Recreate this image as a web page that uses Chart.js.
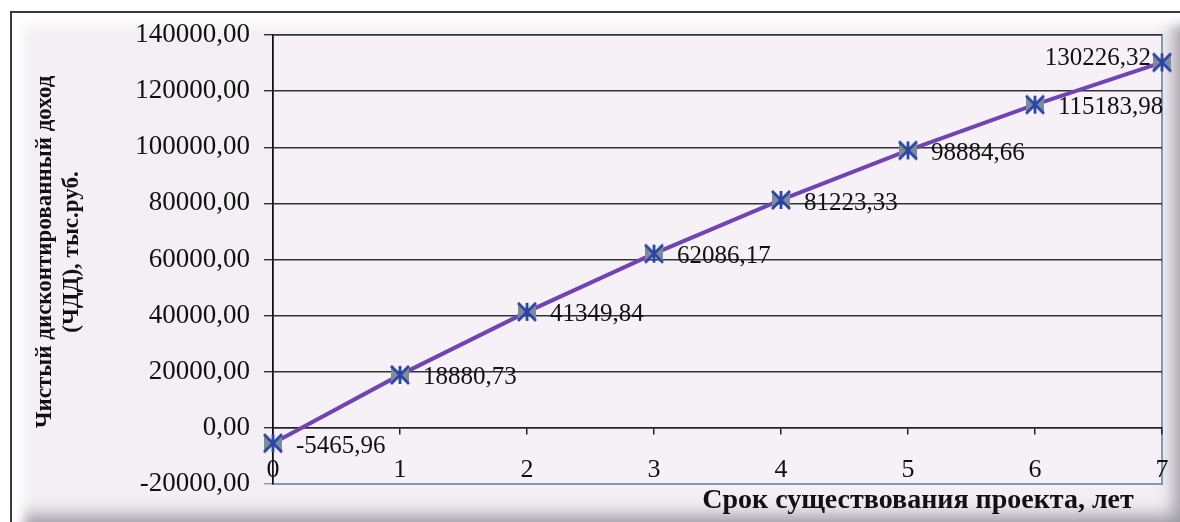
<!DOCTYPE html>
<html lang="ru">
<head>
<meta charset="utf-8">
<title>ЧДД по годам</title>
<script src="https://cdn.jsdelivr.net/npm/chart.js@4.4.1/dist/chart.umd.min.js"></script>
<style>
  html, body { margin: 0; padding: 0; background: #ffffff; }
  body { width: 1180px; height: 522px; position: relative; overflow: hidden; }
  #frame {
    position: absolute; left: 10px; top: 11px; width: 1185px; height: 525px;
    border-top: 2px solid #3a3a3e; border-left: 2px solid #3a3a3e;
    background: #f4eff4;
    box-shadow: inset 16px 16px 12px -4px #ffffff,
                inset -34px -34px 18px -12px rgba(90, 90, 100, 0.6);
  }
  #wrap { position: absolute; left: 0; top: 0; width: 1180px; height: 522px; }
</style>
</head>
<body>
<div id="frame"></div>
<div id="wrap"><canvas id="npvChart"></canvas></div>
<script>
// Срок существования проекта (годы) и ЧДД, тыс.руб.
const years = [0, 1, 2, 3, 4, 5, 6, 7];
const npvValues = [-5465.96, 18880.73, 41349.84, 62086.17, 81223.33, 98884.66, 115183.98, 130226.32];
const yTicks = [-20000, 0, 20000, 40000, 60000, 80000, 100000, 120000, 140000];
const yTitleLines = ['Чистый дисконтированный доход', '(ЧДД), тыс.руб.'];
const xTitle = 'Срок существования проекта, лет';

const SERIF = '"Liberation Serif", "Times New Roman", serif';

// число в формате "12345,67"
function fmt(v) {
    return Number(v).toFixed(2).replace('.', ',');
}

// маркер: крестик с вертикальной чертой и серыми треугольниками
function makeMarker() {
    const c = document.createElement('canvas');
    const s = 22;
    c.width = s; c.height = s;
    const g = c.getContext('2d');
    const m = s / 2, r = 9;
    g.fillStyle = '#7d8c98';
    g.beginPath();
    g.moveTo(m - r, m - r); g.lineTo(m, m); g.lineTo(m - r, m + r); g.closePath();
    g.moveTo(m + r, m - r); g.lineTo(m, m); g.lineTo(m + r, m + r); g.closePath();
    g.fill();
    g.strokeStyle = '#2b45a6';
    g.lineWidth = 2.8;
    g.beginPath();
    g.moveTo(m - r, m - r); g.lineTo(m + r, m + r);
    g.moveTo(m + r, m - r); g.lineTo(m - r, m + r);
    g.moveTo(m, m - r); g.lineTo(m, m + r);
    g.stroke();
    return c;
}

// фон и рамка области построения
const plotAreaBg = {
    id: 'plotAreaBg',
    beforeDraw(chart) {
        const { ctx, chartArea: a } = chart;
        ctx.save();
        ctx.fillStyle = '#f6f1f6';
        ctx.fillRect(a.left, a.top, a.right - a.left, a.bottom - a.top);
        ctx.strokeStyle = '#7f9caa';
        ctx.lineWidth = 2;
        ctx.strokeRect(a.left, a.top, a.right - a.left, a.bottom - a.top);
        ctx.restore();
    }
};

// подписи значений у точек и заголовки осей
const valueLabels = {
    id: 'valueLabels',
    afterDatasetsDraw(chart) {
        const { ctx } = chart;
        const meta = chart.getDatasetMeta(0);
        const last = meta.data.length - 1;
        ctx.save();
        ctx.fillStyle = '#111';
        ctx.font = '25px ' + SERIF;
        ctx.textBaseline = 'middle';
        meta.data.forEach((pt, i) => {
            const text = fmt(npvValues[i]);
            if (i === last) {
                ctx.textAlign = 'right';
                ctx.fillText(text, pt.x - 11, pt.y - 4);
            } else {
                ctx.textAlign = 'left';
                ctx.fillText(text, pt.x + 23, pt.y + 3);
            }
        });

        ctx.font = 'bold 23px ' + SERIF;
        ctx.textAlign = 'center';
        ctx.save();
        ctx.translate(45, 252);
        ctx.rotate(-Math.PI / 2);
        ctx.fillText(yTitleLines[0], 0, 0);
        ctx.fillText(yTitleLines[1], 0, 27);
        ctx.restore();

        ctx.font = 'bold 28px ' + SERIF;
        ctx.fillText(xTitle, 918, 501);
        ctx.restore();
    }
};

const ctx = document.getElementById('npvChart').getContext('2d');
new Chart(ctx, {
    type: 'line',
    data: {
        datasets: [{
            data: years.map((x, i) => ({ x: x, y: npvValues[i] })),
            borderColor: '#7144b4',
            borderWidth: 4,
            pointStyle: makeMarker(),
            pointRadius: 11,
            pointHoverRadius: 11,
            clip: false,
            tension: 0
        }]
    },
    options: {
        responsive: true,
        maintainAspectRatio: false,
        animation: false,
        events: [],
        layout: { padding: { left: 0, top: 35, right: 18, bottom: 38 } },
        plugins: {
            legend: { display: false },
            tooltip: { enabled: false }
        },
        scales: {
            x: {
                type: 'linear',
                position: { y: 0 },
                min: 0,
                max: 7,
                afterFit(scale) {
                    // подпись "7" не должна сдвигать правый край области
                    scale.paddingLeft = 0;
                    scale.paddingRight = 0;
                },
                ticks: {
                    stepSize: 1,
                    padding: 21,
                    color: '#111',
                    font: { family: SERIF, size: 26 }
                },
                grid: { drawOnChartArea: false, tickLength: 6, color: '#222', lineWidth: 1.5 },
                border: { color: '#222', width: 1.5 }
            },
            y: {
                min: -20000,
                max: 140000,
                afterBuildTicks(scale) {
                    scale.ticks = yTicks.map(v => ({ value: v }));
                },
                afterFit(scale) {
                    scale.width = 273;
                },
                ticks: {
                    padding: 14,
                    color: '#111',
                    font: { family: SERIF, size: 27 },
                    callback: v => fmt(v)
                },
                grid: {
                    color: c => (c.tick && c.tick.value === -20000 ? '#7f9caa' : '#2e3436'),
                    lineWidth: 1.4,
                    tickLength: 9
                },
                border: { color: '#111', width: 1.6 }
            }
        }
    },
    plugins: [plotAreaBg, valueLabels]
});
</script>
</body>
</html>
